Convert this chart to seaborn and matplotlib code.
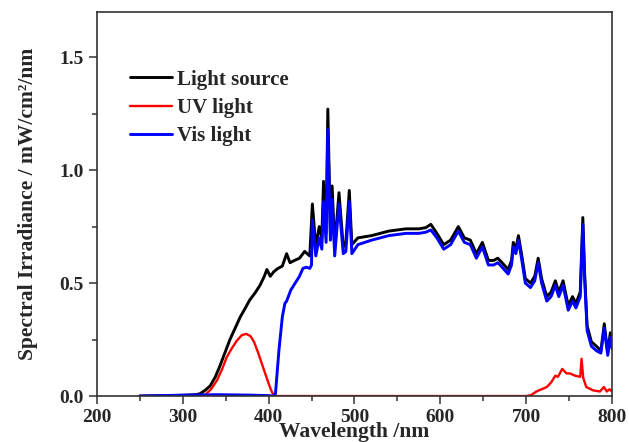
import pandas as pd
import seaborn as sns
import matplotlib.pyplot as plt
from matplotlib.ticker import MultipleLocator

# Light source spectrum (black)
src_wl = [250, 300, 315, 320, 326, 332, 338, 343, 349, 355, 361, 367, 373, 378,
          384, 390, 395, 398, 402, 406, 411, 416, 421, 425, 430, 436, 442, 448,
          451, 455, 459, 462, 464, 467, 469, 472, 474, 477, 482, 487, 490, 494,
          497, 504, 520, 540, 560, 575, 583, 589, 596, 604, 612, 621, 628, 635,
          642, 649, 656, 662, 667, 672, 679, 683, 685, 688, 691, 695, 699, 705,
          710, 714, 718, 724, 729, 734, 738, 743, 749, 754, 758, 763, 766, 768,
          771, 776, 782, 787, 791, 795, 798, 800]
src_val = [0.0, 0.003, 0.006, 0.01, 0.025, 0.045, 0.085, 0.13, 0.19, 0.25, 0.30,
           0.35, 0.39, 0.425, 0.455, 0.49, 0.53, 0.56, 0.53, 0.55, 0.565, 0.575,
           0.63, 0.59, 0.60, 0.61, 0.64, 0.62, 0.85, 0.66, 0.75, 0.70, 0.95, 0.72,
           1.27, 0.73, 0.93, 0.66, 0.90, 0.66, 0.68, 0.91, 0.67, 0.70, 0.71, 0.73,
           0.74, 0.74, 0.745, 0.76, 0.72, 0.67, 0.69, 0.75, 0.70, 0.69, 0.63, 0.68,
           0.60, 0.60, 0.61, 0.59, 0.56, 0.60, 0.68, 0.65, 0.71, 0.62, 0.52, 0.50,
           0.53, 0.61, 0.52, 0.44, 0.46, 0.51, 0.46, 0.51, 0.40, 0.44, 0.41, 0.46,
           0.79, 0.55, 0.31, 0.24, 0.22, 0.20, 0.32, 0.19, 0.28, 0.23]

# UV light (red)
uv_wl = [320, 326, 333, 340, 346, 351, 357, 363, 369, 374, 379, 383, 388, 392,
         396, 400, 403, 406, 410, 700, 705, 712, 718, 724, 729, 734, 737, 742,
         747, 751, 757, 763, 764.5, 766.5, 770, 778, 786, 790.5, 794, 797, 800]
uv_val = [0.0, 0.005, 0.03, 0.07, 0.12, 0.17, 0.21, 0.245, 0.27, 0.275, 0.265,
          0.24, 0.19, 0.145, 0.10, 0.056, 0.025, 0.003, 0.0, 0.0, 0.003, 0.02,
          0.03, 0.04, 0.06, 0.09, 0.085, 0.12, 0.10, 0.10, 0.09, 0.085, 0.165,
          0.08, 0.04, 0.025, 0.02, 0.04, 0.02, 0.03, 0.02]

# Vis light (blue)
vis_wl = [250, 300, 340, 380, 400, 405, 408, 412, 416, 419, 421, 426, 431, 436,
          440, 444, 448, 450, 451, 455, 459, 462, 464, 467, 469, 472, 474, 477,
          482, 487, 490, 494, 497, 504, 520, 540, 560, 575, 583, 589, 596, 604,
          612, 621, 628, 635, 642, 649, 656, 662, 667, 672, 679, 683, 685, 688,
          691, 695, 699, 705, 710, 714, 718, 724, 729, 734, 738, 743, 749, 754,
          758, 763, 766, 768, 771, 776, 782, 787, 791, 795, 798, 800]
vis_val = [0.0, 0.004, 0.006, 0.004, 0.002, 0.0, 0.01, 0.2, 0.35, 0.41, 0.42,
           0.47, 0.50, 0.53, 0.565, 0.57, 0.565, 0.58, 0.78, 0.62, 0.70, 0.65,
           0.86, 0.68, 1.18, 0.69, 0.87, 0.62, 0.85, 0.63, 0.64, 0.86, 0.63,
           0.67, 0.69, 0.71, 0.72, 0.72, 0.725, 0.735, 0.70, 0.65, 0.67, 0.73,
           0.68, 0.67, 0.61, 0.66, 0.58, 0.58, 0.59, 0.57, 0.54, 0.58, 0.66,
           0.63, 0.69, 0.60, 0.50, 0.48, 0.51, 0.59, 0.50, 0.42, 0.44, 0.49,
           0.44, 0.49, 0.38, 0.42, 0.39, 0.44, 0.76, 0.53, 0.29, 0.22, 0.20,
           0.19, 0.30, 0.18, 0.26, 0.21]

sns.set_style("ticks")
plt.rcParams['font.family'] = ['Liberation Serif', 'DejaVu Serif']
plt.rcParams['font.weight'] = 'bold'
plt.rcParams['axes.labelweight'] = 'bold'

fig = plt.figure(figsize=(6.29, 4.42), dpi=100)
ax = fig.add_axes([0.154, 0.104, 0.819, 0.869])

sns.lineplot(x=src_wl, y=src_val, ax=ax, color='black', lw=2.1, label='Light source')
sns.lineplot(x=uv_wl, y=uv_val, ax=ax, color='#ff0000', lw=1.7, label='UV light')
sns.lineplot(x=vis_wl, y=vis_val, ax=ax, color='#0000ff', lw=2.1, label='Vis light')

ax.set_xlim(200, 800)
ax.set_ylim(0, 1.7)
ax.xaxis.set_major_locator(MultipleLocator(100))
ax.xaxis.set_minor_locator(MultipleLocator(50))
ax.yaxis.set_major_locator(MultipleLocator(0.5))
ax.yaxis.set_minor_locator(MultipleLocator(0.25))
ax.tick_params(which='major', direction='out', length=6, width=1.1,
               labelsize=14, color='#333333')
ax.tick_params(which='minor', direction='out', length=3.5, width=1.1,
               color='#333333')
for s in ax.spines.values():
    s.set_linewidth(1.2)
    s.set_color('#333333')

# x label sits partly over the tick labels, as in the original figure
ax.set_xlabel('Wavelength /nm', fontsize=15.5, fontweight='bold')
ax.set_ylabel('Spectral Irradiance / mW/cm\u00b2/nm', fontsize=15.5, fontweight='bold')
ax.xaxis.set_label_coords(0.5, -0.068)
ax.yaxis.set_label_coords(-0.115, 0.5)

ax.legend(loc='upper left', bbox_to_anchor=(0.064, 0.85), frameon=False,
          fontsize=15, handlelength=2.0, handletextpad=0.25,
          labelspacing=0.4, borderpad=0, borderaxespad=0)

plt.savefig('out.png', dpi=100)
